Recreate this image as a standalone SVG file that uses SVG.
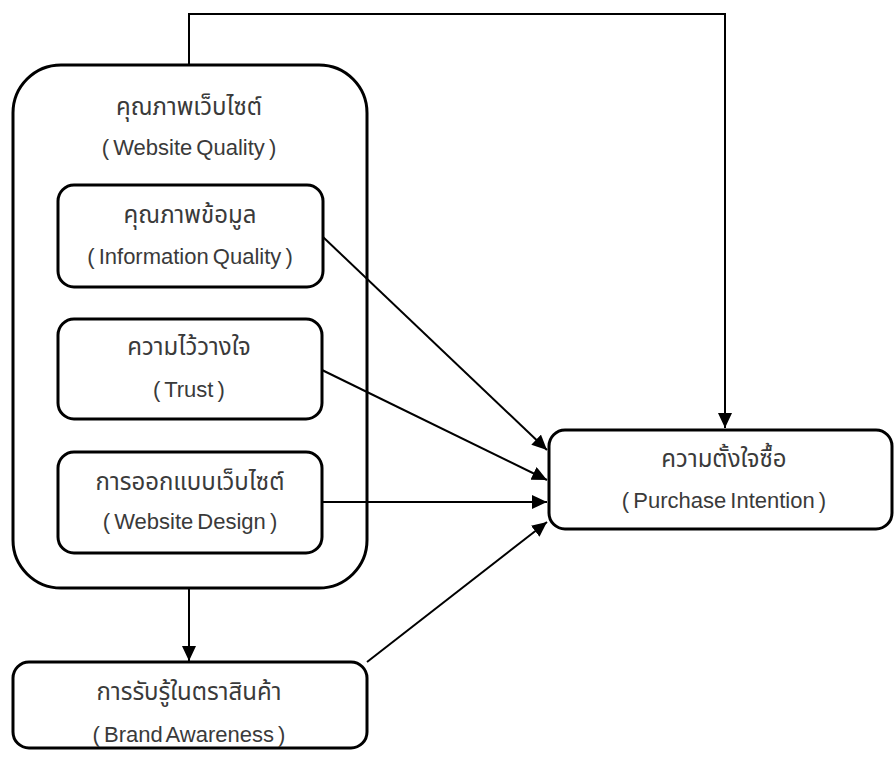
<svg xmlns="http://www.w3.org/2000/svg" width="894" height="760" viewBox="0 0 894 760">
<style>
.box{fill:#fff;stroke:#000;stroke-width:3}
.outer{fill:none;stroke:#000;stroke-width:3}
.t{font-family:"Liberation Sans","Noto Sans Thai","Noto Sans","DejaVu Sans",sans-serif;font-size:22px;word-spacing:-2px;fill:#3a3a3a;text-anchor:middle}
.th{font-family:"Noto Sans Thai","Liberation Sans","Noto Sans",sans-serif;font-size:24px;fill:#3a3a3a;text-anchor:middle}
.c{fill:none;stroke:#000;stroke-width:2}
</style>
<defs>
<marker id="ah" markerUnits="userSpaceOnUse" markerWidth="16" markerHeight="16" refX="15" refY="7" orient="auto">
<path d="M0,0 L15,7 L0,14 z" fill="#000"/>
</marker>
</defs>
<rect width="894" height="760" fill="#fff"/>
<g id="connectors">
<path class="c" d="M189,65 V14 H725 V428" marker-end="url(#ah)"/>
<path class="c" d="M189,588 V661" marker-end="url(#ah)"/>
<path class="c" d="M323,237 L547,450" marker-end="url(#ah)"/>
<path class="c" d="M322,370 L547,480" marker-end="url(#ah)"/>
<path class="c" d="M322,502 L547,502" marker-end="url(#ah)"/>
<path class="c" d="M367,662 L547,522" marker-end="url(#ah)"/>
</g>
<g id="website-quality">
<rect class="outer" x="13" y="65" width="354" height="523" rx="48" ry="48"/>
<text class="th" x="189" y="115">คุณภาพเว็บไซต์</text>
<text class="t" x="189" y="155">( Website Quality )</text>
</g>
<g id="information-quality">
<rect class="box" x="58" y="185" width="265" height="102" rx="16" ry="16"/>
<text class="th" x="190" y="223">คุณภาพข้อมูล</text>
<text class="t" x="190" y="264">( Information Quality )</text>
</g>
<g id="trust">
<rect class="box" x="58" y="319" width="264" height="100" rx="16" ry="16"/>
<text class="th" x="189" y="355">ความไว้วางใจ</text>
<text class="t" x="189" y="397">( Trust )</text>
</g>
<g id="website-design">
<rect class="box" x="58" y="452" width="264" height="101" rx="16" ry="16"/>
<text class="th" x="190" y="490">การออกแบบเว็บไซต์</text>
<text class="t" x="190" y="529">( Website Design )</text>
</g>
<g id="brand-awareness">
<rect class="box" x="13" y="662" width="354" height="86" rx="16" ry="16"/>
<text class="th" x="189" y="700">การรับรู้ในตราสินค้า</text>
<text class="t" x="189" y="742">( Brand Awareness )</text>
</g>
<g id="purchase-intention">
<rect class="box" x="549" y="430" width="343" height="99" rx="16" ry="16"/>
<text class="th" x="724" y="467">ความตั้งใจซื้อ</text>
<text class="t" x="724" y="508">( Purchase Intention )</text>
</g>
</svg>
